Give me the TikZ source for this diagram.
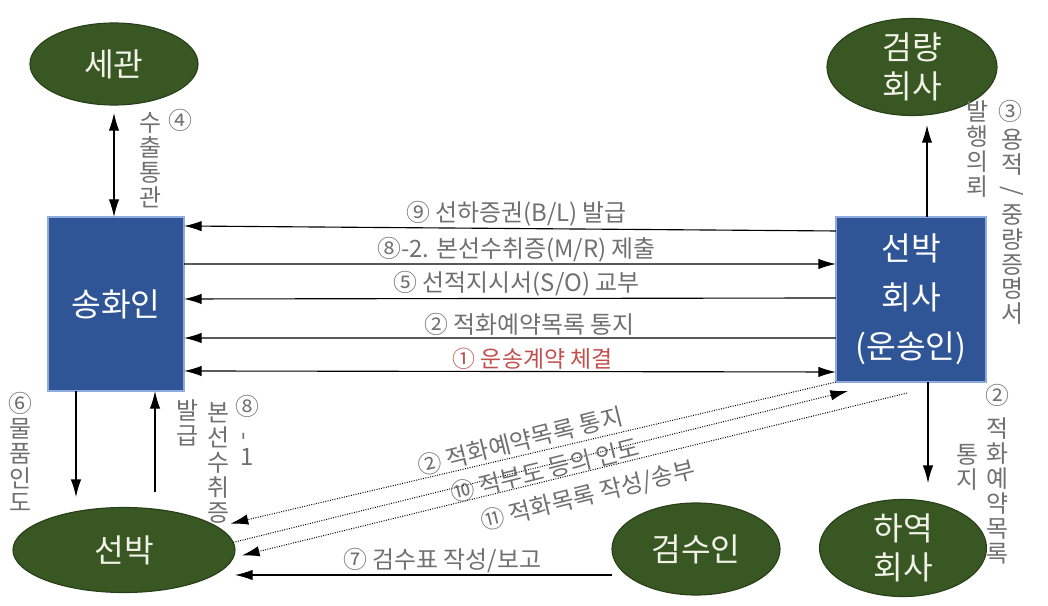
\documentclass[tikz,border=0pt]{standalone}
\usepackage{fontspec}
\setmainfont{Noto Sans CJK KR}
\usepackage{graphicx}
\usepackage{tikz}
\usetikzlibrary{positioning,arrows.meta,shapes.geometric,calc}
\definecolor{firmblue}{RGB}{47,85,151}
\definecolor{firmedge}{RGB}{143,170,220}
\definecolor{partygreen}{RGB}{56,87,35}
\definecolor{partyedge}{RGB}{40,64,25}
\definecolor{partytext}{RGB}{242,242,232}
\definecolor{notegray}{RGB}{112,112,112}
\definecolor{signred}{RGB}{192,80,77}
\newcommand\bigtxt{\fontsize{23}{35}\selectfont}
\newcommand\midtxt{\fontsize{23}{28}\selectfont}
\newcommand\smalltxt{\fontsize{17}{17.7}\selectfont}
\newcommand\redtxt{\fontsize{16.3}{17.7}\selectfont}

\begin{document}
\begin{tikzpicture}[x=0.025cm,y=-0.025cm,>={Latex[length=4.4mm,width=2.6mm]},
  firm/.style={draw=firmedge,line width=1pt,fill=firmblue,text=white,font=\bigtxt,align=center,inner sep=0pt,outer sep=0pt},
  party/.style={ellipse,draw=partyedge,line width=0.8pt,fill=partygreen,text=partytext,font=\midtxt,align=center,inner sep=0pt,outer sep=0pt},
  note/.style={text=notegray,font=\smalltxt,inner sep=1pt},
  vnote/.style={note,align=center},
  link/.style={line width=0.8pt},
  dots/.style={densely dotted,line width=0.7pt}]
\useasboundingbox (0,0) rectangle (1048,606);

% parties
\node[firm,minimum width=3.4cm,minimum height=4.35cm] (shipper) at (116,304) {송화인};
\node[firm,minimum width=3.75cm,minimum height=4.125cm] (carrier) at (911,299.5) {선박\\회사\\(운송인)};
\node[party,minimum width=4.2cm,minimum height=2.05cm] (customs) at (114,64) {세관};
\node[party,minimum width=4.25cm,minimum height=2.175cm] (survey) at (912,67) {검량\\회사};
\node[party,minimum width=5.55cm,minimum height=2.125cm] (ship) at (124,550) {선박};
\node[party,minimum width=4.2cm,minimum height=2.3cm] (tally) at (696,549) {검수인};
\node[party,minimum width=4.175cm,minimum height=2.275cm] (steve) at (903,548) {하역\\회사};

% shipper <-> carrier
\draw[link,->] ($(carrier.north west)+(0,14)$) -- node[note,above,pos=0.49]{⑨ 선하증권(B/L) 발급} ($(shipper.north east)+(0,9)$);
\draw[link,->] ($(shipper.north east)+(0,47)$) -- node[note,above,pos=0.51]{⑧-2. 본선수취증(M/R) 제출} ($(carrier.north west)+(0,47)$);
\draw[link,->] ($(carrier.north west)+(0,81)$) -- node[note,above,pos=0.49]{⑤ 선적지시서(S/O) 교부} ($(shipper.north east)+(0,82)$);
\draw[link,->] ($(carrier.north west)+(0,121)$) -- node[note,above,pos=0.47]{② 적화예약목록 통지} ($(shipper.north east)+(0,121)$);
\draw[link,<->] ($(shipper.north east)+(0,154)$) -- node[note,above,pos=0.535,text=signred,font=\redtxt]{① 운송계약 체결} ($(carrier.north west)+(0,155)$);

% vertical links
\draw[link,<->,shorten <=2mm] (customs.south) -- (customs.south |- shipper.north);
\draw[link,->,shorten >=2.4mm] ([xshift=4mm]carrier.north) -- ([xshift=4mm]carrier.north |- survey.south);
\draw[link,->,shorten >=4.1mm] ([xshift=4.25mm]carrier.south) -- ([xshift=4.25mm]carrier.south |- steve.north);
\draw[link,->,shorten >=2.6mm] ([xshift=-1cm]shipper.south) -- ([xshift=-1cm]shipper.south |- ship.north);
\draw[link,->,shorten <=3.9mm] ([xshift=9.75mm]shipper.south |- ship.north) -- ([xshift=9.75mm]shipper.south);

% carrier <-> ship
\draw[dots,->,shorten >=3.5mm] (carrier.south west) -- (ship.14);
\draw[dots,->] (ship.4) -- ($(carrier.south west)+(12,9)$);
\draw[dots,->,shorten >=2.25mm] ($(carrier.south)+(-4,11)$) -- (ship.-4);
\node[note,rotate=14] (d2) at (520,441) {② 적화예약목록 통지};
\node[note,rotate=14] (d10) at (545,470) {⑩ 적부도 등의 인도};
\node[note,rotate=14] (d11) at (588,496) {⑪ 적화목록 작성/송부};

% tally -> ship
\coordinate (t7) at ($(tally.west)+(0,26)$);
\draw[link,->] (t7) -- node[note,above,pos=0.45]{⑦ 검수표 작성/보고} (ship.east |- t7);

% vertical labels
\node[note] (v4) at (180,120) {④};
\node[vnote] (v4t) at (150,160) {수\\출\\통\\관};
\node[note] (v3) at (1010,111) {③};
\node[vnote] (v3t) at (1012,227) {용\\적\\\rotatebox[origin=c]{-90}{/}\\중\\량\\증\\명\\서};
\node[vnote] (v3s) at (977,149) {발\\행\\의\\뢰};
\node[note] (v2) at (997,395) {②};
\node[vnote] (v2t) at (997,491) {적\\화\\예\\약\\목\\록};
\node[vnote] (v2s) at (967,467) {통\\지};
\node[vnote] (v6) at (20,452) {⑥\\물\\품\\인\\도};
\node[vnote] (v8) at (247,430) {⑧\\\rotatebox[origin=c]{90}{-}\\1};
\node[vnote] (v8t) at (218,463) {본\\선\\수\\취\\증};
\node[vnote] (v8s) at (187,423) {발\\급};
\end{tikzpicture}
\end{document}
